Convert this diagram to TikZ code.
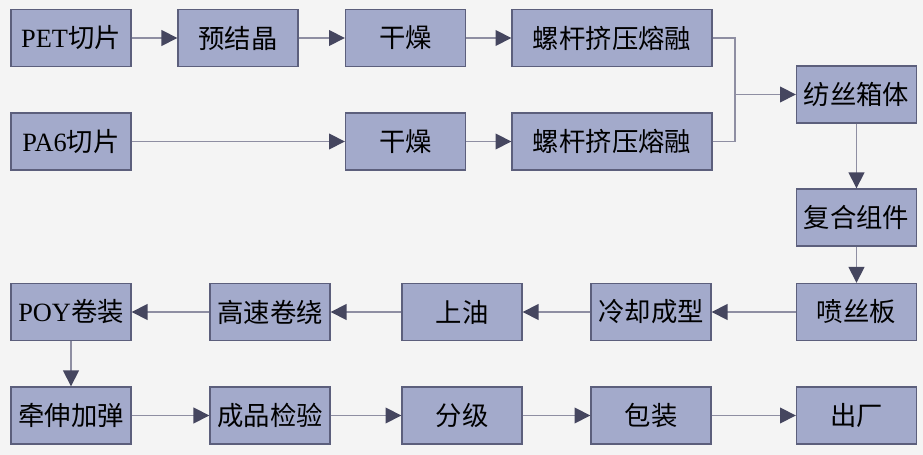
\documentclass[tikz,border=0pt]{standalone}
\usepackage{fontspec}
\setmainfont{Liberation Serif}
\newfontfamily\cjk{Noto Sans CJK SC}
\usepackage{tikz}
\usetikzlibrary{arrows.meta, positioning}
\definecolor{boxfill}{HTML}{A3AACB}
\definecolor{boxline}{HTML}{5C5F7C}
\definecolor{conline}{HTML}{8E8EA2}
\definecolor{tipcol}{HTML}{45465F}
\definecolor{bgcol}{HTML}{F4F4F4}
\tikzset{>={Triangle[length=9pt,width=9pt,color=tipcol]}}

\begin{document}
\begin{tikzpicture}[x=0.02cm,y=-0.02cm,
	box/.style={draw=boxline,fill=boxfill,line width=0.8pt,minimum width=2.4cm,minimum height=1.14cm,inner sep=0pt,font=\fontsize{15}{17}\selectfont},
	widebox/.style={box,minimum width=4cm},
	con/.style={draw=conline,line width=0.9pt}]
		\fill [bgcol] (0,0) rectangle (923,455);
		\useasboundingbox (0,0) rectangle (923,455);
		
		% first line
		\node [box] (pet) at (71,38) {PET{\cjk 切片}};
		\node [box] (yjj) at (238,38) {\cjk 预结晶};
		\node [box] (gz1) at (405.5,38) {\cjk 干燥};
		\node [widebox] (lg1) at (612,38) {\cjk 螺杆挤压熔融};
		
		% second line
		\node [box] (pa6) at (71,141.5) {PA6{\cjk 切片}};
		\node [box] (gz2) at (405.5,141.5) {\cjk 干燥};
		\node [widebox] (lg2) at (612,141.5) {\cjk 螺杆挤压熔融};
		
		\node [box] (fsxt) at (856.5,94.5) {\cjk 纺丝箱体};
		\node [box] (fhzj) at (856.5,217.5) {\cjk 复合组件};
		\coordinate (hb) at (735,94.5);
		
		% third line
		\node [box] (psb) at (856.5,312) {\cjk 喷丝板};
		\node [box] (lq) at (651,312) {\cjk 冷却成型};
		\node [box] (sy) at (462,312) {\cjk 上油};
		\node [box] (gs) at (270,312) {\cjk 高速卷绕};
		\node [box] (poy) at (71,312) {POY{\cjk 卷装}};
		
		% last line
		\node [box] (qs) at (71,415.5) {\cjk 牵伸加弹};
		\node [box] (cp) at (270,415.5) {\cjk 成品检验};
		\node [box] (fj) at (462,415.5) {\cjk 分级};
		\node [box] (bz) at (651,415.5) {\cjk 包装};
		\node [box] (cc) at (856.5,415.5) {\cjk 出厂};
		
		\draw [con,->] (pet)--(yjj);
		\draw [con,->] (yjj)--(gz1);
		\draw [con,->] (gz1)--(lg1);
		\draw [con,->] (pa6)--(gz2);
		\draw [con,->] (gz2)--(lg2);
		\draw [con] (lg1.east) -| (hb);
		\draw [con] (lg2.east) -| (hb);
		\draw [con,->] (hb)--(fsxt);
		\draw [con,->] (fsxt)--(fhzj);
		\draw [con,->] (fhzj)--(psb);
		\draw [con,->] (psb)--(lq);
		\draw [con,->] (lq)--(sy);
		\draw [con,->] (sy)--(gs);
		\draw [con,->] (gs)--(poy);
		\draw [con,->] (poy)--(qs);
		\draw [con,->] (qs)--(cp);
		\draw [con,->] (cp)--(fj);
		\draw [con,->] (fj)--(bz);
		\draw [con,->] (bz)--(cc);
		
		\end{tikzpicture}
\end{document}
